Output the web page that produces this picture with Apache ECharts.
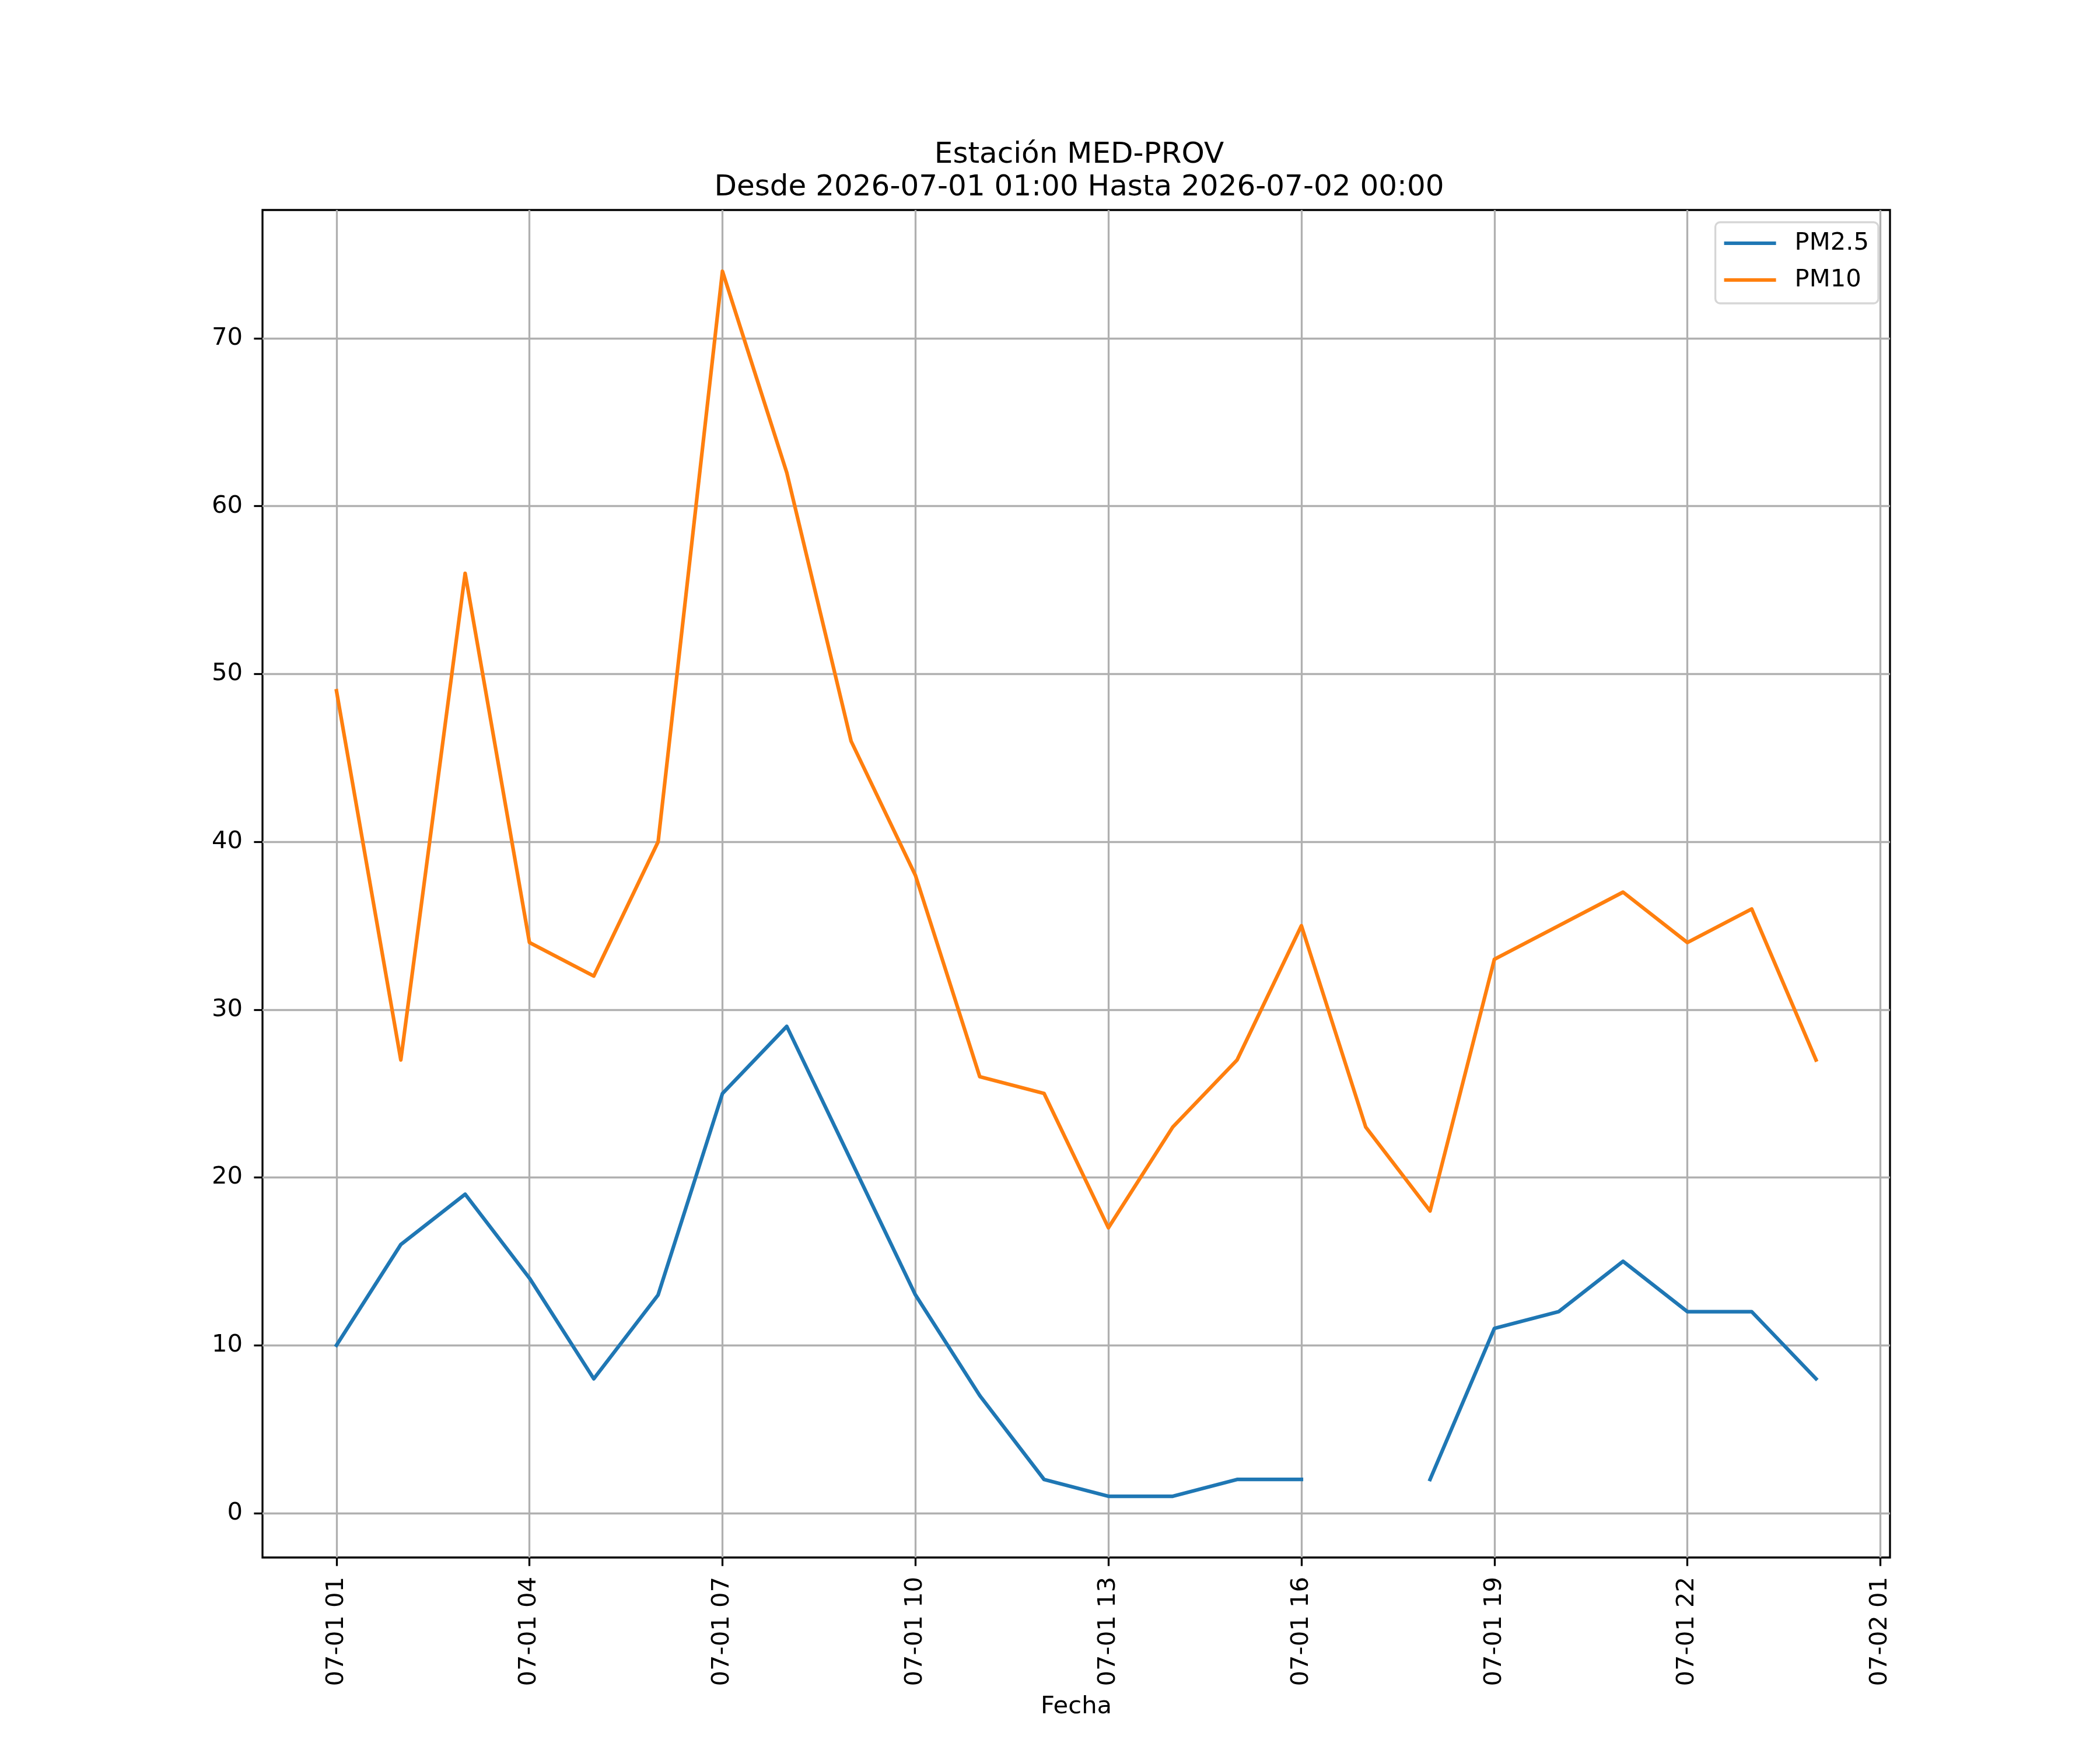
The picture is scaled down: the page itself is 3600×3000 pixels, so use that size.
<!DOCTYPE html>
<html>
<head>
<meta charset="utf-8">
<script src="https://cdn.jsdelivr.net/npm/echarts@6/dist/echarts.min.js"></script>
<style>html,body{margin:0;padding:0;background:#fff}#c{width:3600px;height:3000px}</style>
</head>
<body>
<div id="c"></div>
<script>
const hours = [1,2,3,4,5,6,7,8,9,10,11,12,13,14,15,16,17,18,19,20,21,22,23,24];
const pm25 = [10,16,19,14,8,13,25,29,21,13,7,2,1,1,2,2,null,2,11,12,15,12,12,8];
const pm10 = [49,27,56,34,32,40,74,62,46,38,26,25,17,23,27,35,23,18,33,35,37,34,36,27];
const xTickValues = [1,4,7,10,13,16,19,22,25];
const xTickLabels = ['07-01 01','07-01 04','07-01 07','07-01 10','07-01 13','07-01 16','07-01 19','07-01 22','07-02 01'];
const yTickValues = [0,10,20,30,40,50,60,70];
const titleText = 'Estación MED-PROV\nDesde 2026-07-01 01:00 Hasta 2026-07-02 00:00';
const xName = 'Fecha';
const seriesNames = ['PM2.5','PM10'];

const FONT = 'DejaVu Sans';
const chart = echarts.init(document.getElementById('c'), null, {renderer:'canvas'});
const pair = (xs, ys) => xs.map((x,i)=>[x, ys[i]]);
chart.setOption({
  animation:false,
  backgroundColor:'#ffffff',
  title:{
    text:titleText,
    left:1845, top:233, textAlign:'center',
    textStyle:{fontFamily:FONT,fontSize:50,fontWeight:'normal',color:'#000',lineHeight:56}
  },
  legend:{
    right:380, top:381, orient:'vertical',
    icon:'rect', itemWidth:89, itemHeight:6, itemGap:15,
    padding:[12,16,16,15],
    backgroundColor:'#ffffff', borderColor:'#d6d6d6', borderWidth:3.3, borderRadius:8,
    textStyle:{fontFamily:FONT,fontSize:41.7,color:'#000',lineHeight:48,padding:[0,0,0,27]},
    data:seriesNames
  },
  grid:{left:450,right:360,top:360,bottom:330,show:true,borderColor:'#000',borderWidth:3.3,backgroundColor:'transparent'},
  xAxis:{
    type:'value', min:-0.15, max:25.15,
    name:xName, nameLocation:'middle', nameGap:235,
    nameTextStyle:{fontFamily:FONT,fontSize:41.7,color:'#000'},
    axisLine:{show:false,onZero:false},
    axisTick:{show:true,inside:false,length:14.6,customValues:xTickValues,lineStyle:{color:'#000',width:3.3}},
    axisLabel:{show:true,rotate:90,margin:33,customValues:xTickValues,fontFamily:FONT,fontSize:41.7,color:'#000',
      formatter:(v)=>{const i=xTickValues.indexOf(Math.round(v));return i>=0?xTickLabels[i]:'';}},
    splitLine:{show:true,lineStyle:{color:'#b0b0b0',width:3.3}}
  },
  yAxis:{
    type:'value', min:-2.65, max:77.65,
    axisLine:{show:false,onZero:false},
    axisTick:{show:true,inside:false,length:14.6,customValues:yTickValues,lineStyle:{color:'#000',width:3.3}},
    axisLabel:{show:true,margin:34,customValues:yTickValues,fontFamily:FONT,fontSize:41.7,color:'#000'},
    splitLine:{show:true,lineStyle:{color:'#b0b0b0',width:3.3}}
  },
  series:[
    {name:seriesNames[0],type:'line',data:pair(hours,pm25),showSymbol:false,symbol:'none',connectNulls:false,
     itemStyle:{color:'#1f77b4'},lineStyle:{color:'#1f77b4',width:6.25,cap:'square',join:'round'}},
    {name:seriesNames[1],type:'line',data:pair(hours,pm10),showSymbol:false,symbol:'none',connectNulls:false,
     itemStyle:{color:'#ff7f0e'},lineStyle:{color:'#ff7f0e',width:6.25,cap:'square',join:'round'}}
  ]
});
</script>
</body>
</html>
